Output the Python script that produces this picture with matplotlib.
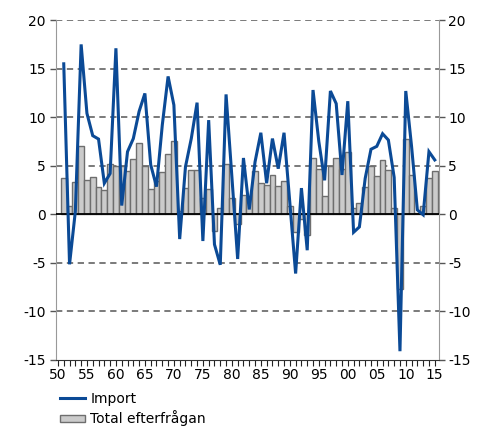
import matplotlib
matplotlib.use("Agg")
import matplotlib.pyplot as plt
from matplotlib.lines import Line2D
from matplotlib.patches import Patch

plt.rcParams['font.family'] = ['DejaVu Sans']
plt.rcParams['axes.unicode_minus'] = False

years = list(range(1951, 2016))
import_growth = [15.5, -5.15, 0.3, 17.5, 10.4, 8.1, 7.75, 3.2, 4.2, 17.1,
                 0.9, 6.45, 7.8, 10.6, 12.45, 5.1, 2.85, 9.2, 14.2, 11.25,
                 -2.55, 4.9, 7.8, 11.5, -2.75, 9.7, -3.1, -5.2, 12.35, 3.9,
                 -4.6, 5.8, 0.5, 5.4, 8.4, 3.2, 7.8, 4.7, 8.4, 1.2,
                 -6.1, 2.7, -3.7, 12.8, 7.5, 3.5, 12.7, 11.4, 4.05, 11.65,
                 -1.85, -1.3, 3.7, 6.7, 7.0, 8.3, 7.65, 3.8, -14.1, 12.7,
                 7.0, 0.45, -0.05, 6.45, 5.6]
total_demand = [3.7, 0.9, 3.3, 7.0, 3.5, 3.8, 2.85, 2.5, 5.2, 5.0,
                5.0, 4.5, 5.65, 7.3, 5.0, 2.6, 3.45, 4.4, 6.2, 7.6,
                0.3, 2.7, 4.6, 4.55, 1.65, 2.6, -1.7, 0.6, 5.2, 1.65,
                -1.0, 1.95, 1.8, 4.5, 3.2, 3.0, 4.0, 2.95, 3.45, 0.9,
                -1.8, -0.5, -2.1, 5.8, 4.65, 1.9, 5.0, 5.85, 4.7, 6.45,
                0.7, 1.2, 2.8, 5.0, 3.9, 5.6, 4.55, 0.6, -7.7, 7.75,
                4.0, 0.1, 0.9, 3.7, 4.5]
label_years = list(range(1950, 2016, 5))
yticks = [-15, -10, -5, 0, 5, 10, 15, 20]

line_color = '#0B4A96'
bar_face = '#CBCBCB'
bar_edge = '#6E6E6E'

fig = plt.figure(figsize=(4.88, 4.28), dpi=100)
ax = fig.add_axes([0.114, 0.159, 0.7846, 0.794])

for v in yticks[1:]:
    if v != 0:
        ax.axhline(v, color='#707070', lw=1.3, ls=(0, (3.5, 2.5)), zorder=0)

ax.bar(years, total_demand, width=1.0, color=bar_face, edgecolor=bar_edge,
       linewidth=1.0, zorder=2)
ax.axhline(0, color='black', lw=1.3, zorder=3)
ax.plot(years, import_growth, color=line_color, lw=2.2, zorder=4,
        solid_joinstyle='miter')

ax.set_xlim(1949.6, 2015.65)
ax.set_ylim(-15, 20)
ax.set_yticks(yticks)
ax.set_yticklabels([str(v) for v in yticks])
ax.set_xticks(label_years)
ax.set_xticklabels([f"{y % 100:02d}" for y in label_years])
ax.set_xticks(years, minor=True)

ax.tick_params(axis='y', which='both', left=True, right=True, labelleft=True,
               labelright=True, direction='out', length=4, width=1,
               color='#555555', labelsize=10, pad=3)
ax.tick_params(axis='x', which='both', direction='out', length=4, width=0.8,
               color='#222222', labelsize=10, pad=2)

ax.spines['top'].set_visible(False)
ax.spines['left'].set_color('#999999')
ax.spines['right'].set_color('#999999')
ax.spines['bottom'].set_color('#333333')

handles = [Line2D([0], [0], color=line_color, lw=2.2),
           Patch(facecolor=bar_face, edgecolor=bar_edge, linewidth=1.0)]
fig.legend(handles, ['Import', 'Total efterfrågan'], loc='upper left',
           bbox_to_anchor=(0.122, 0.085), frameon=False, fontsize=10,
           handlelength=1.8, handleheight=0.4, handletextpad=0.42,
           labelspacing=0.32, borderaxespad=0, borderpad=0)

fig.savefig('out.png', dpi=100)
